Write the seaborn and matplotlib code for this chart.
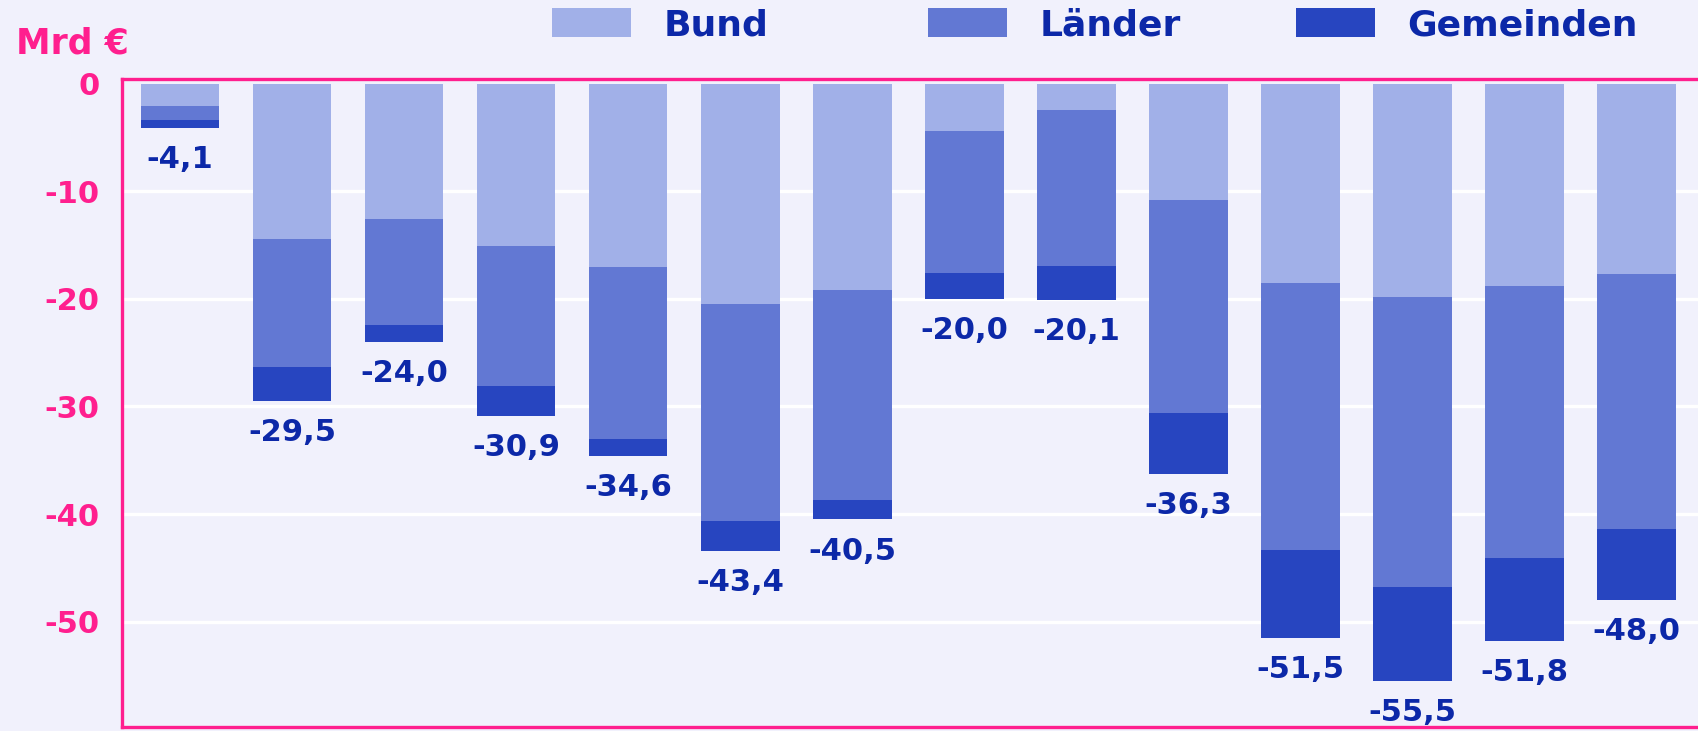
import numpy as np
import pandas as pd
import matplotlib
matplotlib.use("Agg")
import matplotlib.pyplot as plt
import seaborn as sns
from matplotlib.patches import Patch

# ── Data (Mrd €, je Balken: Bund / Länder / Gemeinden) ─────────────
balken = ["B01", "B02", "B03", "B04", "B05", "B06", "B07",
          "B08", "B09", "B10", "B11", "B12", "B13", "B14"]
bund = [-2.1, -14.4, -12.6, -15.1, -17.0, -20.5, -19.2,
        -4.4, -2.4, -10.8, -18.5, -19.8, -18.8, -17.7]
laender = [-1.3, -11.9, -9.8, -13.0, -16.0, -20.1, -19.5,
           -13.2, -14.5, -19.8, -24.8, -27.0, -25.3, -23.7]
gemeinden = [-0.7, -3.2, -1.6, -2.8, -1.6, -2.8, -1.8,
             -2.4, -3.2, -5.7, -8.2, -8.7, -7.7, -6.6]
summen = [-4.1, -29.5, -24.0, -30.9, -34.6, -43.4, -40.5,
          -20.0, -20.1, -36.3, -51.5, -55.5, -51.8, -48.0]
y_ticks = [0, -10, -20, -30, -40, -50]
ebenen = ["Bund", "Länder", "Gemeinden"]

# ── Style ──────────────────────────────────────────────────────────
bg = "#F1F1FC"
pink = "#FF1F8E"
dunkelblau = "#0C28A8"
farben = {"Bund": "#A1B0E8", "Länder": "#6278D3", "Gemeinden": "#2745C0"}

sns.set_theme(style="white")
plt.rcParams["font.family"] = ["DejaVu Sans"]

df = pd.DataFrame({"balken": balken, "bund": bund,
                   "laender": laender, "gemeinden": gemeinden})
# cumulative stacks (all negative, drawn largest first)
df["stufe3"] = df["bund"] + df["laender"] + df["gemeinden"]
df["stufe2"] = df["bund"] + df["laender"]
df["stufe1"] = df["bund"]

fig = plt.figure(figsize=(16.98, 7.31), dpi=100, facecolor=bg)
ax = fig.add_axes([122 / 1698, 4 / 731, 1 - 122 / 1698, 648 / 731])
ax.set_facecolor(bg)

for spalte, name in [("stufe3", "Gemeinden"), ("stufe2", "Länder"), ("stufe1", "Bund")]:
    sns.barplot(data=df, x="balken", y=spalte, color=farben[name],
                saturation=1, width=0.70, linewidth=0, ax=ax, zorder=3)

# ── Value labels ───────────────────────────────────────────────────
for i, s in enumerate(summen):
    ax.text(i, s - 2.95, f"{s:.1f}".replace(".", ","), ha="center", va="center",
            color=dunkelblau, fontsize=22, fontweight="bold", zorder=4)

# ── Axes ───────────────────────────────────────────────────────────
ax.set_xlim(-0.52, 13.55)
ax.set_ylim(-59.8, 0.45)
ax.set_xticks([])
ax.set_xlabel("")
ax.set_ylabel("")
ax.set_yticks(y_ticks)
ax.set_yticklabels([str(t) for t in y_ticks], color=pink, fontsize=22, fontweight="bold")
ax.tick_params(axis="y", length=0, pad=16)
ax.yaxis.grid(True, color="white", linewidth=2.4)
ax.get_ygridlines()[0].set_visible(False)
ax.set_axisbelow(True)

for seite in ["left", "top", "bottom"]:
    ax.spines[seite].set_color(pink)
    ax.spines[seite].set_linewidth(2.4)
    ax.spines[seite].set_zorder(5)
ax.spines["right"].set_visible(False)

fig.text(16 / 1698, 1 - 44 / 731, "Mrd €", color=pink, fontsize=25,
         fontweight="bold", ha="left", va="center")

# ── Legend (one entry each, placed like the original) ──────────────
for name, x_px in zip(ebenen, [552, 928, 1296]):
    leg = fig.legend([Patch(facecolor=farben[name], edgecolor="none")], [name],
                     frameon=False, loc="upper left",
                     bbox_to_anchor=(x_px / 1698, 1 - 8 / 731),
                     borderpad=0, borderaxespad=0, fontsize=26,
                     handlelength=2.19, handleheight=0.85, handletextpad=0.9)
    for t in leg.get_texts():
        t.set_color(dunkelblau)
        t.set_fontweight("bold")

fig.savefig("out.png", dpi=100, facecolor=bg)
